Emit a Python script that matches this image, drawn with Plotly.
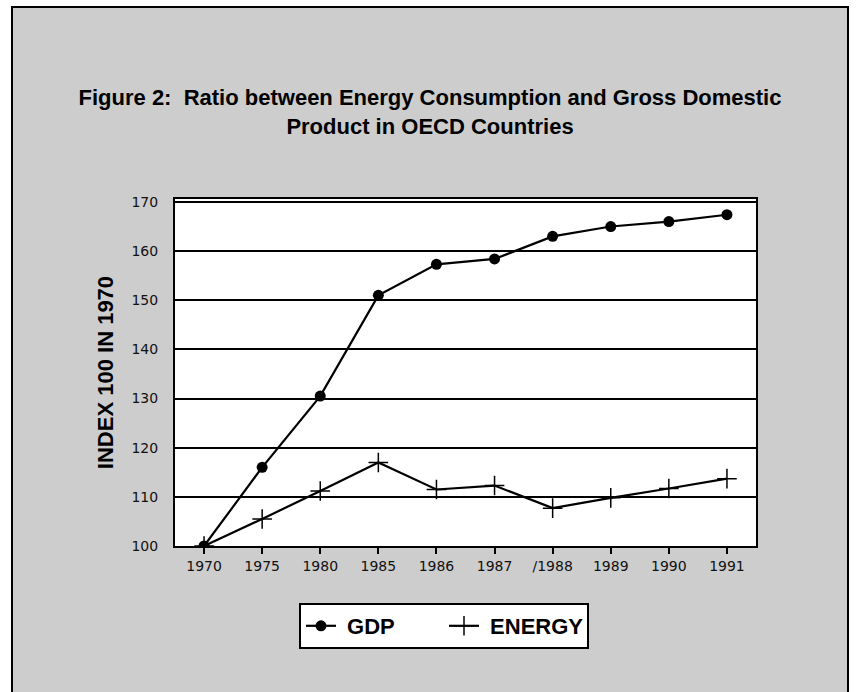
import plotly.graph_objects as go

years = ["1970", "1975", "1980", "1985", "1986", "1987", "1988", "1989", "1990", "1991"]
tick_labels = ["1970", "1975", "1980", "1985", "1986", "1987", "/1988", "1989", "1990", "1991"]
gdp = [100, 116, 130.5, 151, 157.3, 158.4, 163, 165, 166, 167.4]
energy = [100, 105.5, 111.2, 117, 111.5, 112.3, 107.7, 109.8, 111.7, 113.7]
y_ticks = [100, 110, 120, 130, 140, 150, 160, 170]

bold_font = "Liberation Sans, Arial, sans-serif"
tick_font = dict(family="DejaVu Sans, sans-serif", size=14, color="#111")

fig = go.Figure()
fig.add_trace(go.Scatter(
    x=years, y=gdp, name="\u00a0GDP", mode="lines+markers",
    line=dict(color="black", width=2.2),
    marker=dict(symbol="circle", size=11, color="black"),
))
fig.add_trace(go.Scatter(
    x=years, y=energy, name="\u00a0ENERGY", mode="lines+markers",
    line=dict(color="black", width=2.2),
    marker=dict(symbol="cross-thin", size=14, color="black",
                line=dict(color="black", width=1.5)),
))

W, H = 857, 692
L, R, T, B = 175, 101, 199, 146
pw, ph = W - L - R, H - T - B

def px2x(px):
    return (px - L) / pw

def px2y(py):
    return (H - B - py) / ph

shapes = [
    dict(type="rect", xref="paper", yref="paper", layer="below",
         x0=px2x(12), x1=px2x(848), y0=px2y(720), y1=px2y(7),
         fillcolor="#cdcdcd", line=dict(color="black", width=2)),
    dict(type="rect", xref="paper", yref="paper", layer="below",
         x0=0, x1=1, y0=0, y1=1,
         fillcolor="white", line=dict(width=0)),
]

fig.update_layout(
    width=W, height=H,
    margin=dict(l=L, r=R, t=T, b=B),
    paper_bgcolor="white",
    plot_bgcolor="rgba(0,0,0,0)",
    shapes=shapes,
    title=dict(
        text="Figure 2:  Ratio between Energy Consumption and Gross Domestic<br>Product in OECD Countries",
        xref="container", x=430 / W, xanchor="center",
        yref="container", y=1 - 105 / H, yanchor="top",
        font=dict(family=bold_font, size=22, color="black", weight="bold"),
    ),
    xaxis=dict(
        type="category", range=[-0.5, 9.5],
        tickvals=years, ticktext=tick_labels,
        showgrid=False, ticks="outside", ticklen=6, tickwidth=1.5, tickcolor="black",
        showline=True, linecolor="black", linewidth=2, mirror=True,
        tickfont=tick_font, zeroline=False,
    ),
    yaxis=dict(
        range=[100, 170.6], tickvals=y_ticks,
        showgrid=True, gridcolor="black", gridwidth=1.5,
        showline=True, linecolor="black", linewidth=2, mirror=True,
        ticks="", ticklabelstandoff=12, tickfont=tick_font, zeroline=False,
        title=dict(text="INDEX 100 IN 1970", standoff=12,
                   font=dict(family=bold_font, size=22, color="black", weight="bold")),
    ),
    legend=dict(
        orientation="h", x=px2x(299), y=px2y(603), xanchor="left", yanchor="top",
        bgcolor="white", bordercolor="black", borderwidth=2,
        font=dict(family=bold_font, size=22, color="black", weight="bold"),
        itemwidth=30, entrywidth=98, tracegroupgap=0,
    ),
    showlegend=True,
)

fig.write_html("out.html")
